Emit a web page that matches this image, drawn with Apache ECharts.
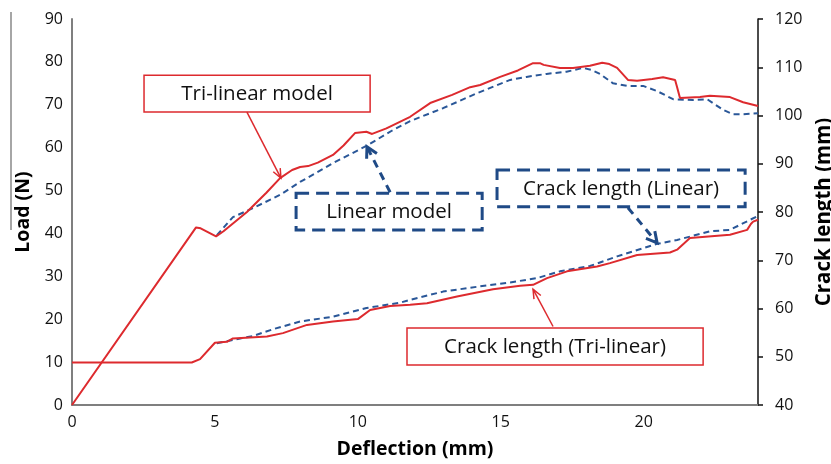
<!DOCTYPE html>
<html>
<head>
<meta charset="utf-8">
<script src="https://cdn.jsdelivr.net/npm/echarts@6/dist/echarts.min.js"></script>
<style>
html,body{margin:0;padding:0;background:#fff;}
#chart{width:831px;height:464px;}
</style>
</head>
<body>
<div id="chart"></div>
<script>
// ---- data (deflection in mm) ----
const xTicks = [0, 5, 10, 15, 20];
const triLoadX = [0, 4.34, 4.5, 5.04, 5.3, 6.12, 6.8, 7.28, 7.7, 7.98, 8.26, 8.6, 9.13, 9.5, 9.9, 10.3, 10.5, 11.0, 11.83, 12.53, 13.3, 13.93, 14.28, 14.98, 15.6, 16.13, 16.37, 16.5, 17.07, 17.53, 18.12, 18.55, 18.8, 19.07, 19.45, 19.77, 20.3, 20.68, 21.1, 21.17, 21.27, 21.97, 22.32, 23.02, 23.48, 24];
const triLoadY = [0, 41.4, 41.2, 39.3, 40.5, 45, 49.5, 52.9, 54.8, 55.5, 55.7, 56.5, 58.3, 60.5, 63.4, 63.7, 63.2, 64.5, 67.2, 70.4, 72.3, 74.1, 74.6, 76.5, 78, 79.7, 79.7, 79.3, 78.6, 78.6, 79.1, 79.8, 79.5, 78.6, 75.8, 75.6, 76, 76.4, 75.8, 74.1, 71.6, 71.8, 72.1, 71.8, 70.6, 69.7];
const linLoadX = [5.07, 5.63, 6.33, 7.28, 7.98, 9.13, 10.3, 11.2, 11.83, 12.98, 14.17, 15.33, 15.9, 16.6, 17.3, 17.88, 18.19, 18.47, 18.93, 19.42, 19.98, 20.47, 21.03, 21.73, 22.22, 22.78, 23.13, 23.48, 24];
const linLoadY = [39.6, 43.8, 45.9, 49, 52, 56.4, 60.4, 64, 66.2, 69.2, 72.7, 75.8, 76.5, 77.2, 77.7, 78.6, 78.1, 77.2, 75, 74.4, 74.4, 73.2, 71.3, 71.1, 71.3, 68.8, 67.8, 67.8, 68];
const triCrackX = [0, 4.19, 4.48, 5.0, 5.42, 5.63, 6.82, 7.38, 8.22, 9.13, 10.0, 10.43, 11.13, 11.83, 12.42, 13.47, 14.73, 15.68, 16.13, 16.62, 17.32, 18.37, 18.82, 19.77, 20.92, 21.17, 21.62, 23.02, 23.62, 23.75, 23.83, 24];
const triCrackY = [48.8, 48.8, 49.5, 52.9, 53.1, 53.8, 54.2, 54.9, 56.6, 57.3, 57.8, 59.7, 60.5, 60.8, 61.1, 62.5, 64, 64.7, 64.9, 66.3, 67.7, 68.7, 69.4, 71.1, 71.6, 72.2, 74.6, 75.3, 76.3, 77.5, 78, 78.4];
const linCrackX = [5.07, 6.33, 7.03, 7.98, 9.13, 10.3, 11.48, 11.83, 12.98, 14.17, 15.33, 16.27, 17.07, 18.12, 19.07, 19.98, 20.47, 21.17, 22.32, 23.02, 24];
const linCrackY = [52.8, 54.3, 55.7, 57.3, 58.3, 60.1, 61.2, 61.8, 63.5, 64.5, 65.4, 66.3, 67.7, 68.8, 70.8, 72.5, 73.4, 74.2, 76, 76.3, 79.2];
const labels = ['Tri-linear model', 'Linear model', 'Crack length (Linear)', 'Crack length (Tri-linear)'];

function zip(xs, ys) { return xs.map((x, i) => [x, ys[i]]); }

const RED = '#dd2a2e';
const BLUE = '#2a5798';
const BOXBLUE = '#1f4a86';
const FONT = 'Open Sans';

const chart = echarts.init(document.getElementById('chart'));
const option = {
  animation: false,
  backgroundColor: '#fff',
  grid: { left: 72, right: 73, top: 19, bottom: 59, outerBoundsMode: 'none', containLabel: false },
  xAxis: {
    type: 'value', min: 0, max: 24, interval: 5,
    name: 'Deflection (mm)', nameLocation: 'middle', nameGap: 34,
    nameTextStyle: { fontFamily: FONT, fontWeight: 'bold', fontSize: 19.5, color: '#000' },
    axisLine: { show: true, lineStyle: { color: '#7f7f7f', width: 2 } },
    axisTick: { show: false },
    splitLine: { show: false },
    axisLabel: { fontFamily: FONT, fontSize: 16, color: '#111', margin: 9,
      formatter: v => xTicks.indexOf(v) >= 0 ? String(v) : '' }
  },
  yAxis: [{
    type: 'value', min: 0, max: 90, interval: 10, position: 'left',
    name: 'Load (N)', nameLocation: 'middle', nameGap: 38, nameRotate: 90,
    nameTextStyle: { fontFamily: FONT, fontWeight: 'bold', fontSize: 19.5, color: '#000' },
    axisLine: { show: true, lineStyle: { color: '#7f7f7f', width: 2 } },
    axisTick: { show: false },
    splitLine: { show: false },
    axisLabel: { fontFamily: FONT, fontSize: 16, color: '#111', margin: 9 }
  }, {
    type: 'value', min: 40, max: 120, interval: 10, position: 'right',
    name: 'Crack length (mm)', nameLocation: 'middle', nameGap: 50, nameRotate: 90,
    nameTextStyle: { fontFamily: FONT, fontWeight: 'bold', fontSize: 20.5, color: '#000' },
    axisLine: { show: true, lineStyle: { color: '#111', width: 1.5 } },
    axisTick: { show: true, inside: false, length: 5, lineStyle: { color: '#111', width: 1.5 } },
    splitLine: { show: false },
    axisLabel: { fontFamily: FONT, fontSize: 16, color: '#111', margin: 17 }
  }],
  series: [
    { type: 'line', yAxisIndex: 0, data: zip(linLoadX, linLoadY), showSymbol: false, z: 2,
      lineStyle: { color: BLUE, width: 2, type: [6, 4] } },
    { type: 'line', yAxisIndex: 1, data: zip(linCrackX, linCrackY), showSymbol: false, z: 2,
      lineStyle: { color: BLUE, width: 2, type: [6, 4] } },
    { type: 'line', yAxisIndex: 0, data: zip(triLoadX, triLoadY), showSymbol: false, z: 3,
      lineStyle: { color: RED, width: 2 } },
    { type: 'line', yAxisIndex: 1, data: zip(triCrackX, triCrackY), showSymbol: false, z: 3,
      lineStyle: { color: RED, width: 2 } }
  ]
};
chart.setOption(option);

// ---- annotations, anchored in data space (x: mm, y: load N) ----
const annBoxes = [
  { x1: 2.52, y1: 76.9, x2: 10.43, y2: 68.3, from: [6.12, 68.3], to: [7.31, 52.9], kind: 'red' },
  { x1: 7.84, y1: 49.4, x2: 14.35, y2: 40.8, from: [11.13, 49.6], to: [10.32, 60.2], kind: 'blue' },
  { x1: 14.87, y1: 54.8, x2: 23.55, y2: 46.2, from: [19.45, 46.0], to: [20.47, 37.8], kind: 'blue' },
  { x1: 11.72, y1: 17.95, x2: 22.08, y2: 9.33, from: [16.83, 18.3], to: [16.13, 27.0], kind: 'red' }
];
function px(p) { return chart.convertToPixel({ xAxisIndex: 0, yAxisIndex: 0 }, p); }
const graphics = [];
// stray vertical rule left of the "Load (N)" title
graphics.push({ type: 'line', z: 10, shape: { x1: 11, y1: 12, x2: 11, y2: 230 },
  style: { stroke: '#888', lineWidth: 1.5 } });
annBoxes.forEach((b, i) => {
  const a = px([b.x1, b.y1]), c = px([b.x2, b.y2]);
  const isRed = b.kind === 'red';
  const col = isRed ? RED : BOXBLUE;
  graphics.push({
    type: 'rect', z: 10,
    shape: { x: a[0], y: a[1], width: c[0] - a[0], height: c[1] - a[1] },
    style: isRed ? { fill: 'transparent', stroke: col, lineWidth: 1.5 }
                 : { fill: 'transparent', stroke: col, lineWidth: 3, lineDash: [13, 7] }
  });
  graphics.push({
    type: 'text', z: 11,
    x: (a[0] + c[0]) / 2, y: (a[1] + c[1]) / 2 + 1,
    style: { text: labels[i], fontFamily: FONT, fontSize: 20.5, fill: '#111', align: 'center', verticalAlign: 'middle' }
  });
  const f = px(b.from), t = px(b.to);
  const ang = Math.atan2(t[1] - f[1], t[0] - f[0]);
  const L = isRed ? 10 : 12, sp = isRed ? 0.4 : 0.5;
  const h1 = [t[0] - L * Math.cos(ang - sp), t[1] - L * Math.sin(ang - sp)];
  const h2 = [t[0] - L * Math.cos(ang + sp), t[1] - L * Math.sin(ang + sp)];
  graphics.push({
    type: 'line', z: 10,
    shape: { x1: f[0], y1: f[1], x2: t[0], y2: t[1] },
    style: isRed ? { stroke: col, lineWidth: 1.5 } : { stroke: col, lineWidth: 3, lineDash: [8, 6] }
  });
  graphics.push({
    type: 'polyline', z: 10,
    shape: { points: [h1, t, h2] },
    style: { stroke: col, lineWidth: isRed ? 1.5 : 3, fill: 'none' }
  });
});
chart.setOption({ graphic: graphics });
</script>
</body>
</html>
